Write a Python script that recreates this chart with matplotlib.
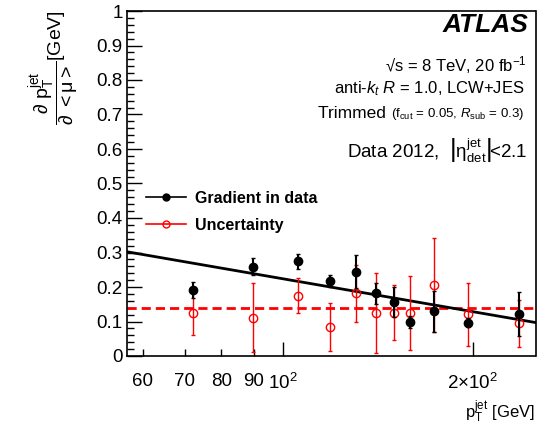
import numpy as np
import matplotlib
matplotlib.use('Agg')
import matplotlib.pyplot as plt
from matplotlib.lines import Line2D
from matplotlib.ticker import FixedLocator, FixedFormatter, MultipleLocator

plt.rcParams['font.family'] = ['Liberation Sans', 'DejaVu Sans']
plt.rcParams['mathtext.fontset'] = 'custom'
plt.rcParams['mathtext.rm'] = 'Liberation Sans'
plt.rcParams['mathtext.it'] = 'Liberation Sans:italic'
plt.rcParams['mathtext.bf'] = 'Liberation Sans:bold'
plt.rcParams['mathtext.sf'] = 'Liberation Sans'

# values
pt = [72.1, 89.8, 105.9, 119.0, 130.5, 140.6, 150.0, 159.4, 173.8, 196.9, 237.0]
grad = [0.191, 0.259, 0.275, 0.218, 0.244, 0.182, 0.156, 0.099, 0.130, 0.097, 0.121]
grad_err = [0.024, 0.024, 0.022, 0.018, 0.048, 0.030, 0.043, 0.018, 0.059, 0.013, 0.064]
unc = [0.124, 0.111, 0.175, 0.085, 0.182, 0.125, 0.126, 0.124, 0.206, 0.121, 0.095]
unc_err = [0.062, 0.100, 0.050, 0.070, 0.083, 0.115, 0.080, 0.107, 0.135, 0.092, 0.068]

# straight-line fit in log10(pT) and the flat uncertainty level
fit_a, fit_b = 0.858, -0.317
unc_level = 0.138

x_major = [100, 200]
x_major_labels = ['$10^2$', r'$2{\times}10^2$']
x_minor = [60, 70, 80, 90]
x_minor_labels = ['60', '70', '80', '90']
xlim = (56.7, 251.5)

W, H = 543, 429
fig = plt.figure(figsize=(W / 100, H / 100), dpi=100)
ax = fig.add_axes([127 / W, 1 - 356 / H, 408.5 / W, 345 / H])


def px(x, y):
    # figure pixel position -> figure fraction
    return x / W, 1 - y / H


ax.set_xscale('log')
ax.set_xlim(*xlim)
ax.set_ylim(0, 1)

fit_x = np.array(xlim)
ax.plot(fit_x, fit_a + fit_b * np.log10(fit_x), color='k', lw=2, zorder=3)
ax.axhline(unc_level, color='red', lw=2, ls=(0, (3.3, 1.8)), zorder=2)

ax.errorbar(pt, unc, yerr=unc_err, fmt='o', mfc='none', mec='red', mew=1,
            ms=6, ecolor='red', elinewidth=1, capsize=1.5, zorder=4)
ax.errorbar(pt, grad, yerr=grad_err, fmt='o', color='k', ms=6,
            elinewidth=1.5, capsize=1.5, zorder=5)

# axes style
ax.xaxis.set_major_locator(FixedLocator(x_major))
ax.xaxis.set_major_formatter(FixedFormatter(x_major_labels))
ax.xaxis.set_minor_locator(FixedLocator(x_minor))
ax.xaxis.set_minor_formatter(FixedFormatter(x_minor_labels))
ax.yaxis.set_major_locator(MultipleLocator(0.1))
ax.yaxis.set_minor_locator(MultipleLocator(0.02))
ax.set_yticklabels(['%g' % v for v in ax.get_yticks()])
ax.tick_params(which='both', direction='in', top=False, right=False, labelsize=13.5)
ax.tick_params(axis='x', which='major', length=10, width=1, pad=12)
ax.tick_params(axis='x', which='minor', length=5, width=1, pad=12)
ax.tick_params(axis='y', which='major', length=11, width=1, pad=3)
ax.tick_params(axis='y', which='minor', length=5, width=1)
for s in ax.spines.values():
    s.set_linewidth(1.2)

# legend
handles = [
    Line2D([], [], color='k', lw=1.2, marker='o', ms=5),
    Line2D([], [], color='red', lw=1.2, marker='o', ms=5, mfc='none'),
]
ax.legend(handles, ['Gradient in data', 'Uncertainty'], loc='upper left',
          bbox_to_anchor=(0.046, 0.478), frameon=False, borderpad=0,
          borderaxespad=0, handlelength=2.5, handletextpad=0.55,
          labelspacing=0.75, prop={'weight': 'bold', 'size': 11.5})

# labels
fig.text(*px(528, 25), 'ATLAS', ha='right', va='center', fontsize=19,
         fontweight='bold', fontstyle='italic')
fig.text(*px(527, 65), '\u221as = 8 TeV, 20 fb$^{-1}$', ha='right', va='center', fontsize=12)
fig.text(*px(525, 89), 'anti-$k_{t}$ $R$ = 1.0, LCW+JES', ha='right', va='center', fontsize=12)
t_small = fig.text(*px(524, 114), '(f$_{\\mathrm{cut}}$ = 0.05, $R_{\\mathrm{sub}}$ = 0.3)',
                   ha='right', va='center', fontsize=9.5)
ax.annotate('Trimmed ', xy=(0, 0.55), xycoords=t_small, ha='right', va='center',
            fontsize=12.5)
fig.text(*px(527, 150),
         r'Data 2012, $\ \left|\mathrm{\eta}^{\mathrm{jet}}_{\mathrm{det}}\right|\!$<2.1',
         ha='right', va='center', fontsize=13.5)

fig.text(*px(535, 412), r'$\mathrm{p}_{\mathrm{T}}^{\mathrm{jet}}$ [GeV]', ha='right',
         va='center', fontsize=12)
fig.text(*px(54, 10),
         r'$\dfrac{\partial\ \mathrm{p}_{\mathrm{T}}^{\mathrm{jet}}}'
         r'{\partial\ \mathrm{<}\mathrm{\mu}\mathrm{>}}$[GeV]',
         rotation=90, ha='center', va='top', fontsize=14)

fig.savefig('out.png', dpi=100)
